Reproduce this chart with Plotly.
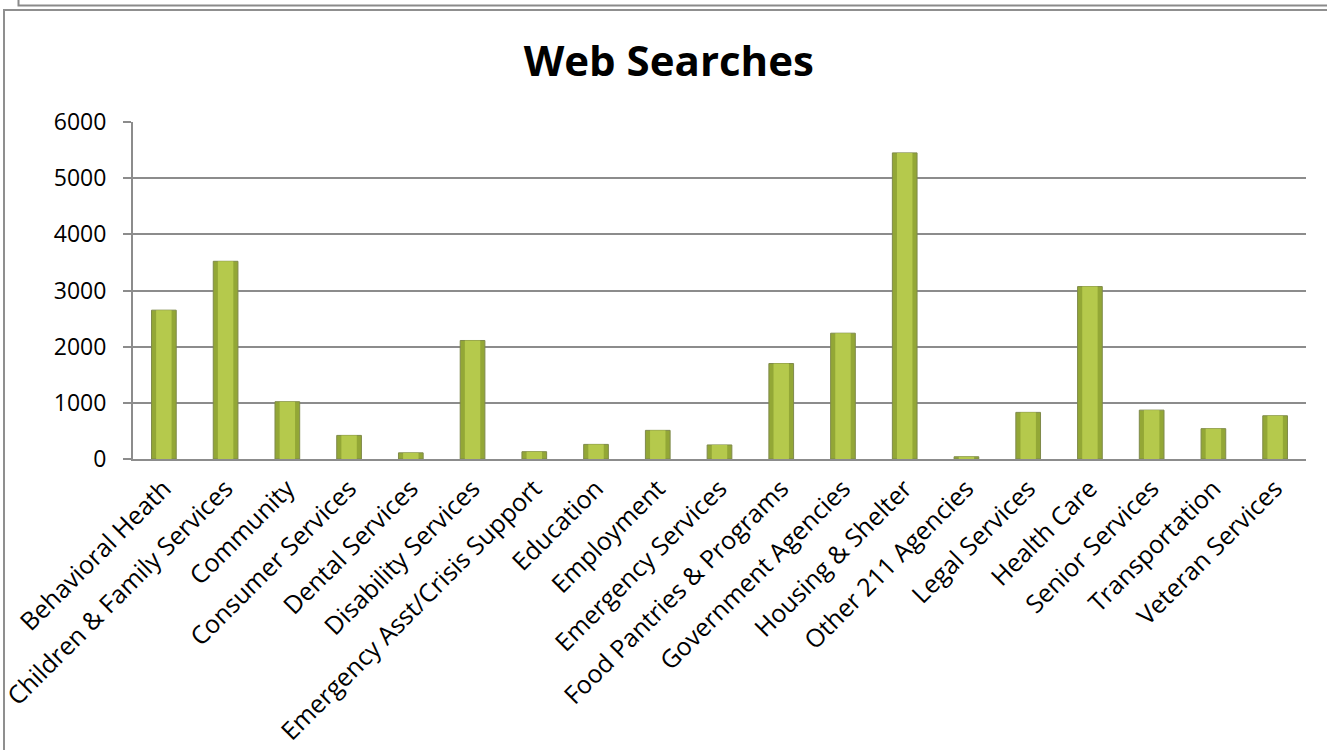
import plotly.graph_objects as go

categories = [
    "Behavioral Heath", "Children & Family Services", "Community", "Consumer Services",
    "Dental Services", "Disability Services", "Emergency Asst/Crisis Support", "Education",
    "Employment", "Emergency Services", "Food Pantries & Programs", "Government Agencies",
    "Housing & Shelter", "Other 211 Agencies", "Legal Services", "Health Care",
    "Senior Services", "Transportation", "Veteran Services",
]
searches = [2650, 3520, 1020, 420, 110, 2110, 130, 260, 510, 250,
            1700, 2240, 5450, 40, 830, 3070, 870, 540, 770]
y_ticks = [0, 1000, 2000, 3000, 4000, 5000, 6000]

W, H = 1327, 750
L, R, T, B = 133, 21, 122, 291
pw, ph = W - L - R, H - T - B

def px(x):
    return (x - L) / pw

def py(y):
    return (H - B - y) / ph

fig = go.Figure()
fig.add_trace(go.Bar(
    x=categories, y=searches, width=0.40,
    marker=dict(color="#93a736", line=dict(color="#7f8a4a", width=1)),
    hoverinfo="x+y", showlegend=False,
))
fig.add_trace(go.Bar(
    x=categories, y=searches, width=0.25,
    marker=dict(color="#b5c94c", line=dict(width=0)),
    hoverinfo="skip", showlegend=False,
))

grey = "#8c8c8c"
fig.update_layout(
    width=W, height=H, autosize=False,
    margin=dict(l=L, r=R, t=T, b=B, autoexpand=False),
    paper_bgcolor="white", plot_bgcolor="white",
    barmode="overlay",
    font=dict(family="Open Sans", color="black"),
    title=dict(text="<b>Web Searches</b>", x=0.504, xref="container", xanchor="center",
               y=1 - 61 / H, yanchor="middle",
               font=dict(family="Open Sans", size=42, color="black")),
    xaxis=dict(
        tickangle=-45, tickfont=dict(size=25), showgrid=False,
        showline=True, linecolor=grey, linewidth=2, ticks="",
        ticklabelstandoff=3, automargin=False,
    ),
    yaxis=dict(
        range=[0, 6000], tickvals=y_ticks, tickfont=dict(size=23),
        showgrid=True, gridcolor=grey, gridwidth=2,
        showline=True, linecolor=grey, linewidth=2,
        ticks="outside", ticklen=8, tickcolor=grey, tickwidth=2,
        ticklabelstandoff=12, zeroline=False, automargin=False,
    ),
    shapes=[
        dict(type="rect", xref="paper", yref="paper",
             x0=px(4), x1=px(1340), y0=py(800), y1=py(10),
             line=dict(color="#8f8f8f", width=2), layer="below"),
        dict(type="path", xref="paper", yref="paper",
             path=f"M {px(18.5)} {py(-5)} L {px(18.5)} {py(5.5)} L {px(1340)} {py(5.5)}",
             line=dict(color="#8a8a8a", width=2)),
    ],
)

fig.write_html("out.html", config={"displayModeBar": False},
               post_script="document.body.style.margin='0';")
